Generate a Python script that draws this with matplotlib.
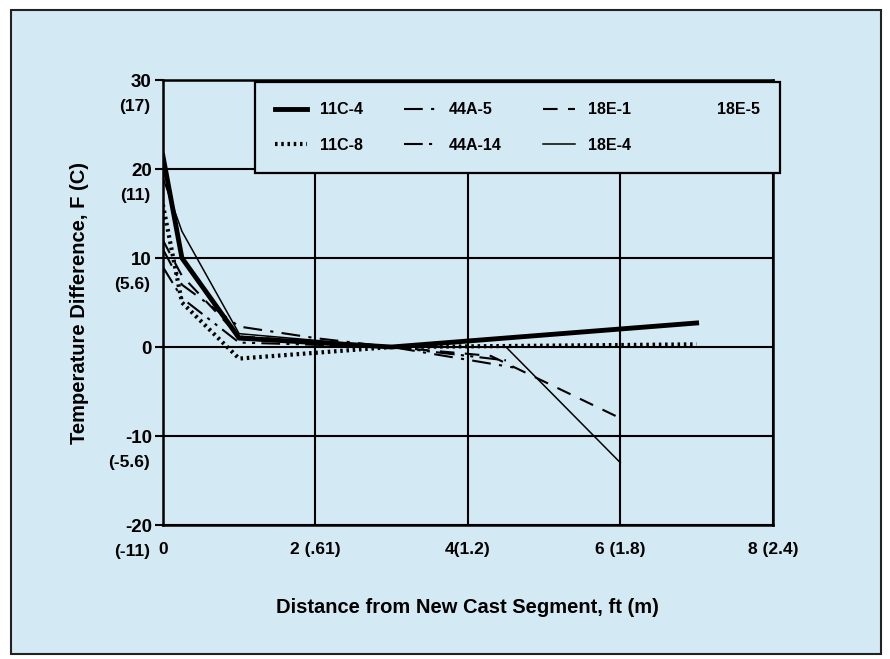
import matplotlib
matplotlib.use("Agg")
import matplotlib.pyplot as plt
import matplotlib.patches as mpatches
import matplotlib.transforms as mtrans

plt.rcParams['font.family'] = ['Liberation Sans', 'DejaVu Sans']
plt.rcParams['font.weight'] = 'bold'

# ---- data (distance ft, temperature difference F) ----
x_11c4 = [0, 0.25, 1, 3, 7]
y_11c4 = [21.5, 10, 1.0, 0, 2.7]

x_11c8 = [0, 0.25, 1, 3, 7]
y_11c8 = [16, 5, -1.3, 0, 0.3]

x_44a5 = [0, 0.25, 1, 2, 3, 4.6]
y_44a5 = [11, 7, 2.3, 1.0, 0, -2.3]

x_44a14 = [0, 0.25, 1, 3, 4.5]
y_44a14 = [9, 5.5, 0.5, 0, -1.5]

x_18e1 = [0, 0.25, 1, 3, 4.3, 6]
y_18e1 = [12, 8, 1.2, 0, -1.0, -8.0]

x_18e4 = [0, 0.25, 1, 3, 4.5, 6]
y_18e4 = [19, 13, 1.5, 0, 0, -13]

yticks_f = [30, 20, 10, 0, -10, -20]
yticks_c = ['(17)', '(11)', '(5.6)', '', '(-5.6)', '(-11)']
xticks = [0, 2, 4, 6, 8]
xtick_labels = ['0', '2 (.61)', '4(1.2)', '6 (1.8)', '8 (2.4)']

bg = '#d3e9f3'

fig = plt.figure(figsize=(8.9, 6.59), dpi=100, facecolor='white')
frame = mpatches.Rectangle((0.012, 0.008), 0.978, 0.977, transform=fig.transFigure,
                           facecolor=bg, edgecolor='#222222', linewidth=1.5, zorder=-5)
fig.add_artist(frame)

ax = fig.add_axes([0.183, 0.2033, 0.6854, 0.6753])
ax.set_zorder(2)
ax.set_facecolor(bg)

ax.plot(x_11c4, y_11c4, color='black', lw=3.5, ls='-', label='11C-4')
ax.plot(x_11c8, y_11c8, color='black', lw=3.0, ls=(0, (0.6, 0.9)), label='11C-8')
ax.plot(x_44a5, y_44a5, color='black', lw=1.5, ls=(0, (9, 4, 1.5, 4)), label='44A-5')
ax.plot(x_44a14, y_44a14, color='black', lw=1.5, ls=(0, (9, 3, 1.5, 3, 1.5, 3)), label='44A-14')
ax.plot(x_18e1, y_18e1, color='black', lw=1.5, ls=(0, (7, 5)), label='18E-1')
ax.plot(x_18e4, y_18e4, color='black', lw=1.1, ls='-', label='18E-4')
ax.plot([], [], ls='None', label='18E-5')

ax.set_xlim(0, 8)
ax.set_ylim(-20, 30)
ax.set_xticks(xticks)
ax.set_xticklabels(xtick_labels, fontsize=12.5, fontweight='bold')
ax.set_yticks(yticks_f)
ax.set_yticklabels([str(v) for v in yticks_f], fontsize=13.5, fontweight='bold')
ax.tick_params(axis='x', length=0, pad=12)
ax.tick_params(axis='y', length=6, width=1.5, pad=2)
ax.grid(True, color='black', lw=1.5)
ax.set_axisbelow(True)
for s in ax.spines.values():
    s.set_linewidth(1.8)

# celsius labels below each F tick label
trans = mtrans.blended_transform_factory(ax.transAxes, ax.transData)
for v, c in zip(yticks_f, yticks_c):
    if c:
        ax.annotate(c, xy=(0, v), xycoords=trans, xytext=(-9, -19), textcoords='offset points',
                    ha='right', va='center', fontsize=12.5, fontweight='bold', annotation_clip=False)

ax.set_ylabel('Temperature Difference, F (C)', fontsize=14.5, fontweight='bold', labelpad=26)
ax.set_xlabel('Distance from New Cast Segment, ft (m)', fontsize=14.5, fontweight='bold', labelpad=30)

leg = ax.legend(ncol=4, loc='upper left', bbox_to_anchor=(0.151, 0.795, 0.86, 0.2),
                mode='expand', fancybox=False, framealpha=1, facecolor=bg, edgecolor='black',
                fontsize=11.5, handlelength=2.0, borderpad=1.25, labelspacing=1.3,
                columnspacing=1.0, borderaxespad=0)
leg.get_frame().set_linewidth(1.6)
for t in leg.get_texts():
    t.set_fontweight('bold')

fig.savefig('out.png', dpi=100, facecolor='white')
